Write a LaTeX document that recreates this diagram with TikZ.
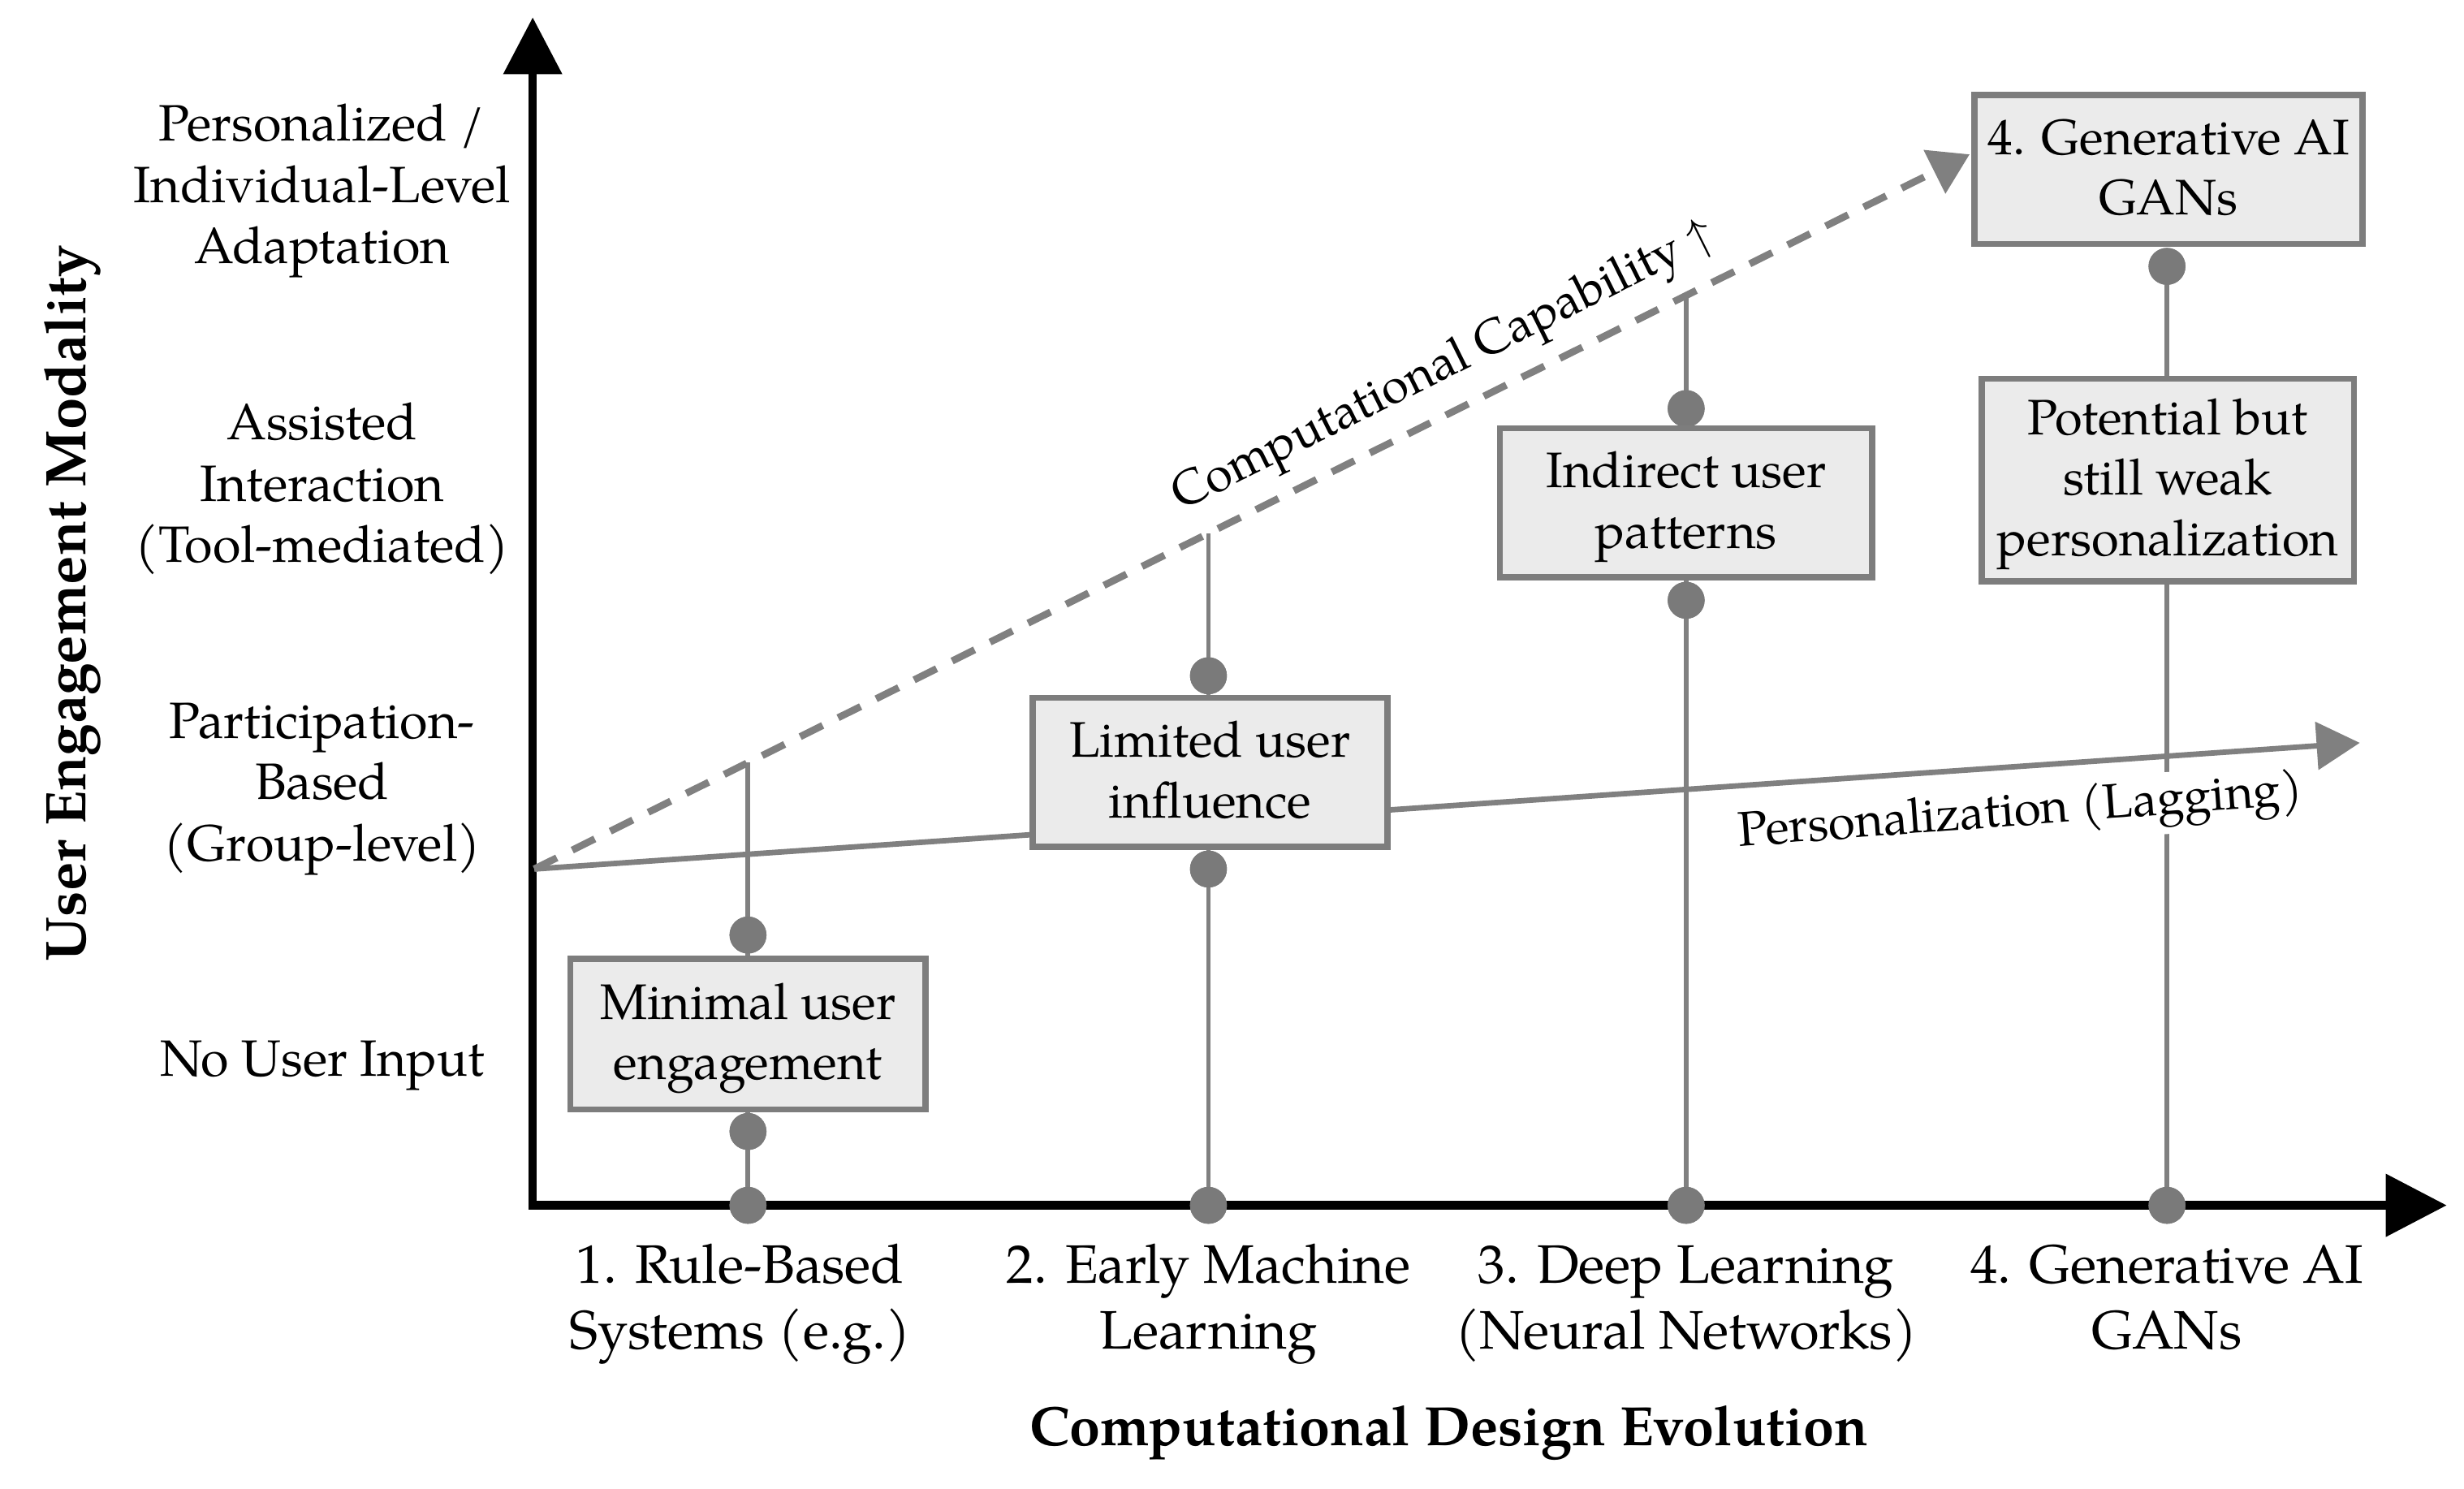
\documentclass[tikz,border=0pt]{standalone}
\usepackage{fontspec}
\setmainfont{texgyrepagella}[Extension=.otf, UprightFont=*-regular, BoldFont=*-bold, ItalicFont=*-italic, BoldItalicFont=*-bolditalic]
\usetikzlibrary{arrows.meta}
\definecolor{lgray}{HTML}{808080}
\definecolor{bgray}{HTML}{7D7D7D}
\definecolor{bfill}{HTML}{EBEBEB}
\definecolor{dgray}{HTML}{7A7A7A}
\newcommand\bxstrut{\rule[-0.25\baselineskip]{0pt}{\baselineskip}}
\begin{document}
\begin{tikzpicture}[x=0.4pt,y=-0.4pt,
  axisline/.style={line width=2.2pt, black, {Triangle[length=14.5pt,width=14.5pt]}-{Triangle[length=15.5pt,width=15.5pt]}},
  gline/.style={draw=lgray, line width=1.2pt},
  caparrow/.style={draw=lgray, line width=1.8pt, dash pattern=on 6.4pt off 4.4pt, -{Triangle[length=10pt,width=12pt]}},
  persarrow/.style={draw=lgray, line width=1.4pt, -{Triangle[length=11pt,width=12pt]}},
  stage/.style={draw=bgray, line width=1.6pt, fill=bfill, align=center, inner sep=0pt, font=\fontsize{12.7}{15.4}\selectfont},
  dot/.style={circle, fill=dgray, inner sep=0pt, minimum size=9.4pt},
  ylab/.style={align=center, inner sep=0pt, font=\fontsize{13.0}{15.6}\selectfont},
  xlab/.style={align=center, inner sep=0pt, font=\fontsize{13.8}{16.8}\selectfont},
  xtitle/.style={font=\bfseries\fontsize{14.1}{16}\selectfont},
  ytitle/.style={font=\bfseries\fontsize{14.6}{16}\selectfont},
  linelab/.style={font=\fontsize{12.4}{15}\selectfont}
]
\fill[white] (0,0) rectangle (1568,947.5);
\useasboundingbox (0,0) rectangle (1568,947.5);

% axes
\coordinate (ytip) at (339,11);
\coordinate (orig) at (339,767);
\coordinate (xtip) at (1557,767);
\draw[axisline] (ytip) -- (orig) -- (xtip);

% trend lines
\coordinate (O) at (340,553);
\coordinate (capT) at (1253.4,98.2);
\coordinate (perT) at (1501.7,472.7);
\draw[caparrow] (O) -- (capT);
\draw[persarrow] (O) -- (perT);

% column coordinates on the dashed line
\coordinate (c1) at (476,485.3);
\coordinate (c2) at (769,339.4);
\coordinate (c3) at (1073,188.0);

% dots
\node[dot] (d1t) at (476,595) {};
\node[dot] (d1b) at (476,720) {};
\node[dot] (a1) at (476,767) {};
\node[dot] (d2t) at (769,430) {};
\node[dot] (d2b) at (769,553) {};
\node[dot] (a2) at (769,767) {};
\node[dot] (d3t) at (1073,260) {};
\node[dot] (d3b) at (1073,382) {};
\node[dot] (a3) at (1073,767) {};
\node[dot] (d5) at (1379,169.5) {};
\node[dot] (a4) at (1379,767) {};

% vertical connectors
\draw[gline] (c1) -- (d1t.center);
\draw[gline] (d1t.center) -- (d1b.center);
\draw[gline] (d1b.center) -- (a1.center);
\draw[gline] (c2) -- (d2t.center);
\draw[gline] (d2t.center) -- (d2b.center);
\draw[gline] (d2b.center) -- (a2.center);
\draw[gline] (c3) -- (d3t.center);
\draw[gline] (d3t.center) -- (d3b.center);
\draw[gline] (d3b.center) -- (a3.center);
\draw[gline] (d5.center) -- (a4.center);

% dots on top of lines
\foreach \d in {d1t,d1b,a1,d2t,d2b,a2,d3t,d3b,a3,d5,a4}{\fill[dgray] (\d.center) circle[radius=4.7pt];}

% stage boxes
\node[stage, minimum width=90.4pt, minimum height=38.4pt] (B1) at (476,658) {\bxstrut Minimal user\\\bxstrut engagement};
\node[stage, minimum width=90.4pt, minimum height=38pt] (B2) at (770,491.5) {\bxstrut Limited user\\\bxstrut influence};
\node[stage, minimum width=94.8pt, minimum height=38pt] (B3) at (1073,320) {\bxstrut Indirect user\\\bxstrut patterns};
\node[stage, minimum width=94.8pt, minimum height=51.6pt] (B4) at (1379.5,305.5) {\bxstrut Potential but\\\bxstrut still weak\\\bxstrut personalization};
\node[stage, minimum width=98.8pt, minimum height=38pt] (B5) at (1380,107.8) {\bxstrut 4. Generative AI\\\bxstrut GANs};

% line labels
\node[linelab, rotate=26.47] (caplab) at (919,234) {Computational Capability $\uparrow$};
\node[linelab, rotate=4.3, fill=white, inner sep=1.5pt] (perlab) at (1286,518) {Personalization (Lagging)};

% y-axis labels
\node[ylab] (y4) at (205,121) {\strut Personalized /\\\strut Individual-Level\\\strut Adaptation};
\node[ylab] (y3) at (205,311) {\strut Assisted\\\strut Interaction\\\strut (Tool-mediated)};
\node[ylab] (y2) at (205,501) {\strut Participation-\\\strut Based\\\strut (Group-level)};
\node[ylab] (y1) at (205,677) {\strut No User Input};

% x-axis labels
\node[xlab] (x1) at (471,829) {\strut 1. Rule-Based\\\strut Systems (e.g.)};
\node[xlab] (x2) at (769,829) {\strut 2. Early Machine\\\strut Learning};
\node[xlab] (x3) at (1073,829) {\strut 3. Deep Learning\\\strut (Neural Networks)};
\node[xlab] (x4) at (1379,829) {\strut 4. Generative AI\\\strut GANs};

% titles
\node[xtitle] (xt) at (922,912) {Computational Design Evolution};
\node[ytitle, rotate=90] (yt) at (46,384) {User Engagement Modality};
\end{tikzpicture}
\end{document}
